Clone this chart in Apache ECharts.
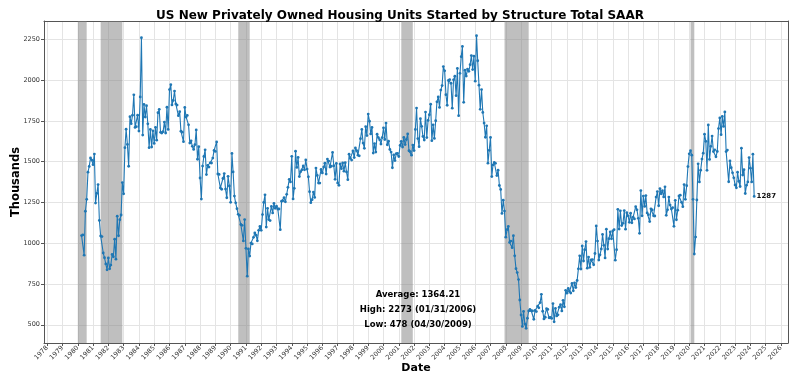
<!DOCTYPE html>
<html>
<head>
<meta charset="utf-8">
<script src="https://cdn.jsdelivr.net/npm/echarts@6/dist/echarts.min.js"></script>
<style>html,body{margin:0;padding:0;background:#fff}#chart{width:800px;height:387px}</style>
</head>
<body>
<div id="chart"></div>
<script>
// ---- Data (thousands of units, SAAR), monthly, dated at month end ----
const firstMonth = [1980, 3];
const starts1980s = [
  1047,1051,927,1196,1269,1436,1471,1523,1510,1482,
  1547,1246,1306,1360,1140,1045,1041,940,911,873,837,910,
  843,866,931,917,1025,902,1166,1046,1144,1173,1372,1303,
  1586,1699,1606,1472,1776,1733,1785,1910,1710,1715,1785,1688,
  1897,2260,1663,1851,1774,1843,1732,1586,1698,1590,1689,1612,
  1711,1632,1800,1821,1680,1676,1684,1743,1676,1834,1698,1942,
  1972,1848,1876,1933,1854,1847,1782,1807,1687,1681,1623,1833,
  1774,1784,1726,1614,1628,1594,1575,1605,1695,1515,1592,1400,
  1271,1473,1532,1573,1421,1478,1467,1493,1492,1522,1569,1563,
  1621,1425,1422,1339,1331,1397,1427,1332,1279,1410,1351,1251
];
const starts1990s = [
  1551,1437,1289,1248,1212,1177,1171,1115,1110,1014,1145,969,
  798,965,921,1001,996,1036,1063,1049,1015,1079,1103,1079,
  1176,1250,1297,1099,1214,1145,1139,1226,1186,1244,1214,1227,
  1210,1210,1083,1258,1260,1280,1254,1300,1343,1392,1376,1533,
  1272,1337,1564,1465,1526,1409,1439,1450,1474,1450,1511,1455,
  1407,1316,1249,1267,1314,1281,1461,1416,1369,1369,1452,1431,
  1467,1491,1424,1516,1504,1467,1472,1557,1475,1392,1489,1370,
  1355,1486,1457,1492,1442,1494,1437,1390,1546,1520,1510,1566,
  1525,1584,1567,1540,1536,1641,1698,1614,1582,1715,1660,1792,
  1748,1670,1710,1553,1611,1559,1669,1648,1635,1608,1648,1708
];
const starts2000s = [
  1636,1737,1604,1626,1575,1559,1463,1541,1507,1549,1551,1532,
  1600,1625,1590,1649,1605,1636,1670,1567,1562,1540,1602,1568,
  1698,1829,1642,1592,1764,1717,1655,1633,1804,1648,1753,1788,
  1853,1629,1726,1643,1751,1867,1897,1833,1939,1967,2083,2057,
  1911,1846,1998,2003,1981,1828,2002,2024,1905,2072,1782,2042,
  2144,2207,1864,2061,2025,2068,2054,2095,2151,2065,2147,1994,
  2273,2119,1969,1821,1942,1802,1737,1650,1720,1491,1570,1649,
  1409,1480,1495,1490,1415,1448,1354,1330,1183,1264,1197,1037,
  1084,1103,1005,1013,973,1046,923,844,820,777,652,560,
  490,582,505,478,540,585,594,586,585,534,588,581
];
const starts2010s = [
  614,604,636,687,583,536,546,599,594,543,545,539,
  630,518,600,554,561,608,623,585,650,610,711,694,
  723,704,695,753,708,757,728,772,843,923,842,983,
  891,960,1010,847,915,852,898,900,868,937,1106,1013,
  897,929,965,1054,987,910,1086,964,1028,1069,1027,1075,
  1083,896,960,1208,1087,1199,1108,1122,1200,1086,1187,1168,
  1128,1184,1125,1160,1149,1224,1205,1153,1061,1323,1168,1289,
  1226,1292,1186,1175,1133,1211,1204,1168,1167,1283,1317,1230,
  1335,1303,1322,1284,1346,1171,1205,1283,1234,1210,1218,1104,
  1263,1144,1203,1290,1295,1251,1224,1360,1269,1353,1470,1548
];
const starts2020s = [
  1567,1540,1269,934,1038,1265,1487,1376,1448,1516,1552,1669,
  1625,1447,1725,1514,1594,1657,1562,1573,1530,1563,1703,1768,
  1666,1777,1716,1805,1562,1571,1377,1505,1463,1432,1401,1357,
  1340,1436,1380,1348,1583,1418,1451,1305,1356,1376,1525,1460,
  1376,1546,1287
];
const recessions = [
  ['1980-01-01','1980-07-31'],
  ['1981-07-01','1982-11-30'],
  ['1990-07-01','1991-03-31'],
  ['2001-03-01','2001-11-30'],
  ['2007-12-01','2009-06-30'],
  ['2020-02-01','2020-04-30']
];
const yTicks = [500,750,1000,1250,1500,1750,2000,2250];
const xTickYears = [1978,1979,1980,1981,1982,1983,1984,1985,1986,1987,1988,1989,1990,1991,1992,1993,1994,1995,1996,1997,1998,1999,2000,2001,2002,2003,2004,2005,2006,2007,2008,2009,2010,2011,2012,2013,2014,2015,2016,2017,2018,2019,2020,2021,2022,2023,2024,2025,2026];
const statLines = ['Average: 1364.21','High: 2273 (01/31/2006)','Low: 478 (04/30/2009)'];
const chartTitle = 'US New Privately Owned Housing Units Started by Structure Total SAAR';

// ---- helpers ----
function decYear(y, mIdx, d) {
  const t = Date.UTC(y, mIdx, d), t0 = Date.UTC(y, 0, 1), t1 = Date.UTC(y + 1, 0, 1);
  return y + (t - t0) / (t1 - t0);
}
function monthEnd(y, m) { return decYear(y, m, 0); } // last day of month m (1-based)
function parseDate(s) { const p = s.split('-').map(Number); return decYear(p[0], p[1] - 1, p[2]); }

const allValues = [].concat(starts1980s, starts1990s, starts2000s, starts2010s, starts2020s);
let cy = firstMonth[0], cm = firstMonth[1];
const seriesData = allValues.map(function (v, i) {
  const pt = [monthEnd(cy, cm), v];
  cm++; if (cm > 12) { cm = 1; cy++; }
  if (i === allValues.length - 1) {
    return { value: pt, label: { show: true, position: 'right', distance: 1, formatter: String(v),
      fontSize: 7, fontWeight: 'bold', color: '#111', fontFamily: 'DejaVu Sans' } };
  }
  return pt;
});
const recAreas = recessions.map(r => [{ xAxis: parseDate(r[0]) }, { xAxis: parseDate(r[1]) }]);

const lastX = seriesData[seriesData.length - 1].value[0];
const firstX = Math.min(parseDate(recessions[0][0]), seriesData[0][0]);
const xr = lastX - firstX;
const xMin = firstX - 0.05 * xr, xMax = lastX + 0.05 * xr;
const vMin = Math.min.apply(null, allValues), vMax = Math.max.apply(null, allValues);
const yMin = vMin - 0.05 * (vMax - vMin), yMax = vMax + 0.05 * (vMax - vMin);

const axisCol = '#555';
const font = 'DejaVu Sans';
const chart = echarts.init(document.getElementById('chart'), null, { renderer: 'canvas' });
chart.setOption({
  animation: false,
  backgroundColor: '#fff',
  textStyle: { fontFamily: font },
  title: { text: chartTitle, left: 'center', top: 5,
    textStyle: { fontSize: 12, fontWeight: 'bold', color: '#000', fontFamily: font } },
  grid: { left: 44, right: 12, top: 21, bottom: 44, containLabel: false, outerBoundsMode: 'none' },
  xAxis: [{
    type: 'value', min: xMin, max: xMax,
    axisLine: { show: true, onZero: false, lineStyle: { color: axisCol, width: 1 } },
    axisTick: { show: true, customValues: xTickYears, length: 3, lineStyle: { color: axisCol } },
    axisLabel: { customValues: xTickYears, rotate: 45, fontSize: 6.5, color: '#333', margin: 4, formatter: v => String(v) },
    splitLine: { show: true, lineStyle: { color: '#e4e4e4', width: 1 } },
    name: 'Date', nameLocation: 'middle', nameGap: 20, nameMoveOverlap: false,
    nameTextStyle: { fontSize: 11, fontWeight: 'bold', color: '#000', fontFamily: font }
  }, {
    type: 'value', position: 'top', min: xMin, max: xMax,
    axisLine: { show: true, onZero: false, lineStyle: { color: axisCol, width: 1 } },
    axisTick: { show: false }, axisLabel: { show: false }, splitLine: { show: false }
  }],
  yAxis: [{
    type: 'value', min: yMin, max: yMax,
    axisLine: { show: true, onZero: false, lineStyle: { color: axisCol, width: 1 } },
    axisTick: { show: true, customValues: yTicks, length: 3, lineStyle: { color: axisCol } },
    axisLabel: { customValues: yTicks, fontSize: 6.5, color: '#333', margin: 4, formatter: v => String(v) },
    splitLine: { show: true, lineStyle: { color: '#e4e4e4', width: 1 } },
    name: 'Thousands', nameLocation: 'middle', nameGap: 22, nameRotate: 90, nameMoveOverlap: false,
    nameTextStyle: { fontSize: 11.5, fontWeight: 'bold', color: '#000', fontFamily: font }
  }, {
    type: 'value', position: 'right', min: yMin, max: yMax,
    axisLine: { show: true, onZero: false, lineStyle: { color: axisCol, width: 1 } },
    axisTick: { show: false }, axisLabel: { show: false }, splitLine: { show: false }
  }],
  series: [{
    type: 'line', data: [], xAxisIndex: 0, yAxisIndex: 0, z: 1, silent: true,
    markArea: { silent: true, itemStyle: { color: 'rgba(128,128,128,0.5)' }, data: recAreas }
  }, {
    type: 'line', data: seriesData, xAxisIndex: 0, yAxisIndex: 0, z: 3,
    symbol: 'circle', symbolSize: 2.8, showSymbol: true,
    lineStyle: { color: '#1f77b4', width: 1.1 },
    itemStyle: { color: '#1f77b4' },
    emphasis: { disabled: true }
  }],
  graphic: statLines.map((t, i) => ({
    type: 'text', x: 418, y: 295 + i * 14.7, z: 10,
    style: { text: t, fontSize: 8.5, fontWeight: 'bold', fill: '#000', fontFamily: font,
      textAlign: 'center', textVerticalAlign: 'middle' }
  }))
});
</script>
</body>
</html>
